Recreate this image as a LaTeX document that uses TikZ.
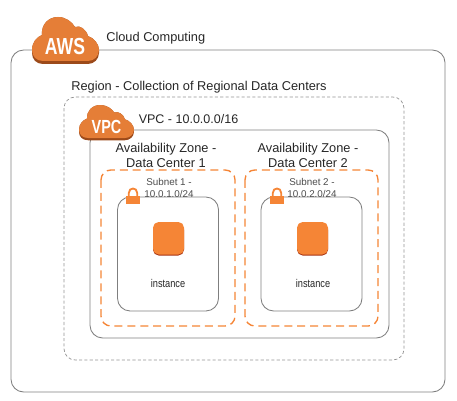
\documentclass[tikz,border=0pt]{standalone}
\usepackage{fontspec}
\setmainfont{Liberation Sans}
\definecolor{awsorange}{HTML}{E57E37}
\definecolor{awsshadow}{HTML}{9C4A1A}
\definecolor{boxorange}{HTML}{F58536}
\definecolor{boxred}{HTML}{A5300F}
\definecolor{frameline}{HTML}{7F7F7F}
\tikzset{
	frame/.style = {draw = frameline, line width = .6pt, rounded corners = 9pt},
	regionline/.style = {draw = frameline!85, line width = .5pt, rounded corners = 8pt, dash pattern = on 2.2pt off 1.6pt},
	zoneline/.style = {draw = boxorange, line width = .95pt, rounded corners = 7pt, dash pattern = on 5.7pt off 3.5pt},
	label/.style = {text = black!85, font = \fontsize{9.1}{10.7}\selectfont, align = center, inner sep = 0pt},
	smalllabel/.style = {text = black!70, font = \fontsize{7}{8.4}\selectfont, align = center, inner sep = 0pt},
	instancelabel/.style = {text = black!85, font = \fontsize{8}{9}\selectfont, xscale = .82, inner sep = 0pt},
	cloudlabel/.style = {text = white, font = \bfseries\fontsize{16.5}{18}\selectfont, xscale = .76, inner sep = 0pt},
	pics/cloudpic/.style = {code = {
		% darker copy first, then the cloud on top
		\foreach \fillcolor/\dropby in {awsshadow/3, awsorange/0} {
			\fill [\fillcolor] (11,44+\dropby) .. controls (4,44+\dropby) and (0,39+\dropby) .. (0,33+\dropby)
				-- (0,33) .. controls (0,25) and (5,20) .. (10,18)
				.. controls (9,8) and (16,0) .. (26,0)
				.. controls (34,0) and (40,5) .. (43,10)
				.. controls (48,8) and (54,12) .. (56,19)
				.. controls (62,21) and (67,27) .. (67,33)
				-- (67,33+\dropby) .. controls (67,39+\dropby) and (62,44+\dropby) .. (56,44+\dropby) -- cycle;
		}
	}},
	pics/lockpic/.style = {code = {
		\draw [boxorange, line width = 1.3pt] (2.8,9) -- (2.8,5) .. controls (2.8,-1) and (11.2,-1) .. (11.2,5) -- (11.2,9);
		\fill [boxorange] (0,8) rectangle (14,16);
	}},
	pics/instancepic/.style = {code = {
		\fill [boxred, rounded corners = 4pt] (0,2) rectangle (31,33.5);
		\fill [boxorange, rounded corners = 4pt] (0,0) rectangle (31,32.5);
	}}
}
\begin{document}
\begin{tikzpicture}[x = .025cm, y = -.025cm]
	\useasboundingbox (0,0) rectangle (457,400);
	% nested boxes
	\draw [frame] (11,50) rectangle (445,392);
	\draw [regionline] (64,97) rectangle (404,360);
	\draw [frame] (90,130) rectangle (389,338);
	\draw [zoneline] (101,170) rectangle (235,326);
	\draw [zoneline] (245,170) rectangle (378,326);
	\draw [frame] (117.5,197) rectangle (218.5,311);
	\draw [frame] (261,197) rectangle (362,311);
	% clouds
	\pic at (32,17) {cloudpic};
	\pic [xscale = .82, yscale = .75] at (79,105) {cloudpic};
	\node [cloudlabel] (awstext) at (65,47) {AWS};
	\node [cloudlabel, font = \bfseries\fontsize{13.5}{15}\selectfont] (vpctext) at (106.5,127) {VPC};
	% locks and instances
	\pic at (126,188) {lockpic};
	\pic at (270,188) {lockpic};
	\pic at (153,222) {instancepic};
	\pic at (297,222) {instancepic};
	% texts
	\node [label, anchor = west] (cloudname) at (106,38.5) {Cloud Computing};
	\node [label, anchor = west] (regionname) at (71,87) {Region - Collection of Regional Data Centers};
	\node [label, anchor = west, font = \fontsize{8.9}{10.7}\selectfont] (vpcname) at (138.5,119) {VPC - 10.0.0.0/16};
	\node [label] (zoneone) at (166,155) {Availability Zone -\\Data Center 1};
	\node [label] (zonetwo) at (308,155) {Availability Zone -\\Data Center 2};
	\node [smalllabel] (subnetone) at (169,188) {Subnet 1 -\\10.0.1.0/24};
	\node [smalllabel] (subnettwo) at (312,188) {Subnet 2 -\\10.0.2.0/24};
	\node [instancelabel] (instanceone) at (168,283) {instance};
	\node [instancelabel] (instancetwo) at (313,283) {instance};
\end{tikzpicture}
\end{document}
